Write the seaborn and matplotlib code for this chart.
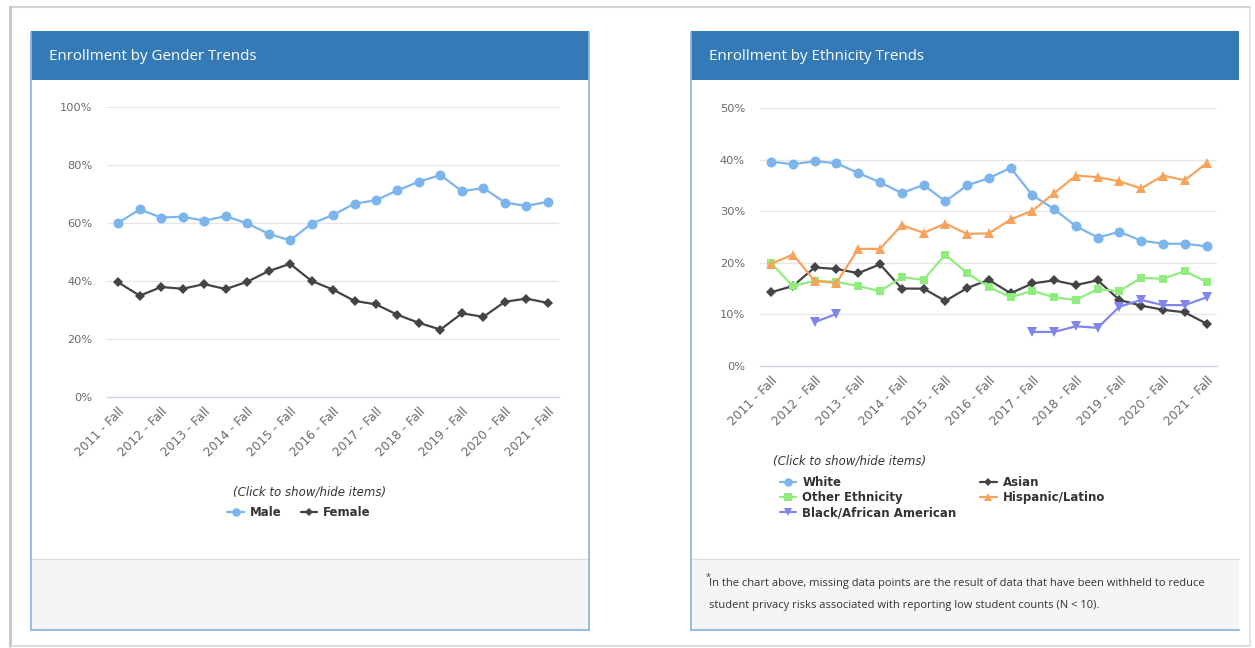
import numpy as np
import pandas as pd
import matplotlib
matplotlib.use("Agg")
import matplotlib.pyplot as plt
from matplotlib.patches import Rectangle
from matplotlib.lines import Line2D
import seaborn as sns

# ---- data -------------------------------------------------------------
terms = [
    "2011 - Fall", "2012 - Spring", "2012 - Fall", "2013 - Spring", "2013 - Fall",
    "2014 - Spring", "2014 - Fall", "2015 - Spring", "2015 - Fall", "2016 - Spring",
    "2016 - Fall", "2017 - Spring", "2017 - Fall", "2018 - Spring", "2018 - Fall",
    "2019 - Spring", "2019 - Fall", "2020 - Spring", "2020 - Fall", "2021 - Spring",
    "2021 - Fall",
]

male = [60.1, 64.7, 61.9, 62.2, 60.8, 62.4, 59.9, 56.3, 54.0, 59.8, 62.8,
        66.7, 67.9, 71.3, 74.3, 76.6, 71.0, 72.1, 67.1, 65.9, 67.4]
female = [39.5, 34.9, 37.9, 37.3, 38.9, 37.2, 39.7, 43.4, 45.9, 40.0, 37.0,
          33.1, 31.9, 28.3, 25.5, 23.2, 28.8, 27.6, 32.8, 33.9, 32.4]

white = [39.6, 39.1, 39.7, 39.3, 37.4, 35.6, 33.5, 35.1, 31.9, 35.0, 36.4,
         38.4, 33.1, 30.4, 27.1, 24.9, 26.0, 24.3, 23.7, 23.7, 23.2]
asian = [14.3, 15.5, 19.1, 18.8, 18.0, 19.7, 15.0, 15.0, 12.6, 15.1, 16.7,
         14.1, 16.0, 16.6, 15.7, 16.6, 12.8, 11.7, 10.9, 10.4, 8.2]
other_ethnicity = [19.9, 15.5, 16.5, 16.3, 15.5, 14.5, 17.2, 16.7, 21.6, 18.0, 15.3,
                   13.3, 14.6, 13.3, 12.8, 14.9, 14.5, 17.1, 16.9, 18.4, 16.3]
hispanic = [19.8, 21.6, 16.5, 16.1, 22.7, 22.7, 27.3, 25.8, 27.6, 25.6, 25.7,
            28.4, 30.1, 33.5, 36.9, 36.6, 35.8, 34.4, 36.9, 36.0, 39.3]
black = [None, None, 8.5, 10.1, None, None, None, None, None, None, None,
         None, 6.6, 6.6, 7.7, 7.4, 11.5, 12.8, 11.8, 11.8, 13.3]

footnote = ("In the chart above, missing data points are the result of data that have been withheld to reduce\n"
            "student privacy risks associated with reporting low student counts (N < 10).")

# ---- figure helpers ----------------------------------------------------
W, H = 1255, 648
sns.set_style("white")
plt.rcParams["font.family"] = ["DejaVu Sans"]

fig = plt.figure(figsize=(W / 100, H / 100), dpi=100)
fig.patch.set_facecolor("white")


def fx(x):
    return x / W


def fy(y):
    return 1 - y / H


BLUE_HEAD = "#337ab7"
BORDER = "#8fb8e0"
TEXT = "#333333"


def add_rect(x0, y0, x1, y1, **kw):
    r = Rectangle((fx(x0), fy(y1)), fx(x1) - fx(x0), fy(y0) - fy(y1),
                  transform=fig.transFigure, **kw)
    fig.add_artist(r)
    return r


def add_line(xs, ys, **kw):
    fig.add_artist(Line2D([fx(x) for x in xs], [fy(y) for y in ys],
                          transform=fig.transFigure, **kw))


# outer page frame
add_line([10, 1250], [7, 7], color="#d4d4d4", lw=1.5)
add_line([10, 10], [7, 646], color="#c4c4c4", lw=2.0)
add_line([10, 1250], [646, 646], color="#d4d4d4", lw=1.2)
add_line([1250, 1250], [7, 646], color="#e0e0e0", lw=1.2)


def panel(x0, x1, title, right_border=True):
    top, head_bot, foot_top, bot = 31, 80, 559, 630
    add_rect(x0, foot_top, x1, bot, facecolor="#f5f5f5", edgecolor="none")
    add_line([x0, x1], [foot_top, foot_top], color="#dddddd", lw=1)
    add_rect(x0, top, x1, head_bot, facecolor=BLUE_HEAD, edgecolor="none")
    add_line([x0, x0], [top + 2, bot], color=BORDER, lw=1.3)
    add_line([x0, x1], [bot, bot], color=BORDER, lw=1.3)
    if right_border:
        add_line([x1, x1], [top + 2, bot], color=BORDER, lw=1.3)
    fig.text(fx(x0 + 18), fy(56), title, color="white", fontsize=10.9,
             family="Open Sans", va="center", ha="left")


panel(31, 589, "Enrollment by Gender Trends")
panel(691, 1239, "Enrollment by Ethnicity Trends", right_border=False)


# ---- chart drawing -----------------------------------------------------
def long_frame(series):
    rows = []
    for name, vals in series.items():
        run = 0
        for i, v in enumerate(vals):
            if v is None:
                run += 1
                continue
            rows.append({"term": i, "value": v, "series": name, "run": f"{name}-{run}"})
    return pd.DataFrame(rows)


def style_axes(ax, ymax, step):
    ax.set_xlim(-0.5, len(terms) - 0.5)
    ax.set_ylim(0, ymax)
    ax.set_yticks(np.arange(0, ymax + 0.1, step))
    ax.set_yticklabels([f"{int(v)}%" for v in np.arange(0, ymax + 0.1, step)])
    ax.set_xticks(range(0, len(terms), 2))
    ax.set_xticklabels(terms[::2], rotation=45, ha="right", rotation_mode="anchor")
    ax.grid(axis="y", color="#e6e6e6", lw=1)
    ax.grid(axis="x", visible=False)
    for s in ["left", "right", "top"]:
        ax.spines[s].set_visible(False)
    ax.spines["bottom"].set_color("#ccd6eb")
    ax.spines["bottom"].set_linewidth(1)
    ax.tick_params(axis="y", length=0, pad=11, labelsize=8.2, labelcolor="#6b6b6b")
    ax.tick_params(axis="x", length=0, pad=6, labelsize=8.8, labelcolor="#6b6b6b")
    ax.set_xlabel("")
    ax.set_ylabel("")
    ax.set_facecolor("none")
    ax.set_axisbelow(True)


def draw_series(ax, df, specs):
    for name, (color, marker, msize) in specs.items():
        sub = df[df["series"] == name]
        sns.lineplot(data=sub, x="term", y="value", units="run", estimator=None,
                     color=color, marker=marker, markersize=msize,
                     markeredgecolor=color, markeredgewidth=0, linewidth=1.6,
                     ax=ax, legend=False, clip_on=False, zorder=3)


gender_specs = {
    "Male": ("#7cb5ec", "o", 7.2),
    "Female": ("#434348", "D", 5.2),
}
eth_specs = {
    "White": ("#7cb5ec", "o", 7.2),
    "Asian": ("#434348", "D", 5.2),
    "Other Ethnicity": ("#90ed7d", "s", 6.2),
    "Hispanic/Latino": ("#f7a35c", "^", 7.2),
    "Black/African American": ("#8085e9", "v", 7.2),
}

# gender chart
ax1 = fig.add_axes([fx(107.5), fy(396.7), fx(558.6) - fx(107.5), fy(107.3) - fy(396.7)])
draw_series(ax1, long_frame({"Male": male, "Female": female}), gender_specs)
style_axes(ax1, 100, 20)

# ethnicity chart
ax2 = fig.add_axes([fx(760.3), fy(366), fx(1217.4) - fx(760.3), fy(108) - fy(366)])
draw_series(ax2, long_frame({"White": white, "Asian": asian,
                             "Other Ethnicity": other_ethnicity,
                             "Hispanic/Latino": hispanic,
                             "Black/African American": black}), eth_specs)
style_axes(ax2, 50, 10)


# ---- legends -----------------------------------------------------------
def handle(spec):
    color, marker, msize = spec
    return Line2D([0], [0], color=color, lw=1.6, marker=marker,
                  markersize=msize * 0.85, markeredgewidth=0)


leg_font = {"family": "DejaVu Sans", "weight": "bold", "size": 8.5}

fig.text(fx(310), fy(492), "(Click to show/hide items)", ha="center", va="center",
         fontsize=8.5, style="italic", color=TEXT)
names = ["Male", "Female"]
lg1 = fig.legend([handle(gender_specs[n]) for n in names], names, loc="center",
                 bbox_to_anchor=(fx(299), fy(513)), ncol=2, frameon=False,
                 handlelength=1.4, handletextpad=0.5, columnspacing=1.6,
                 prop=leg_font, borderpad=0)
for t in lg1.get_texts():
    t.set_color(TEXT)

fig.text(fx(773), fy(461), "(Click to show/hide items)", ha="left", va="center",
         fontsize=8.5, style="italic", color=TEXT)
order = ["White", "Other Ethnicity", "Black/African American", "Asian", "Hispanic/Latino"]
lg2 = fig.legend([handle(eth_specs[n]) for n in order], order, loc="upper left",
                 bbox_to_anchor=(fx(774), fy(470)), ncol=2, frameon=False,
                 handlelength=1.4, handletextpad=0.5, columnspacing=2.0,
                 labelspacing=0.2, prop=leg_font, borderpad=0)
for t in lg2.get_texts():
    t.set_color(TEXT)

# ---- footnote ----------------------------------------------------------
fig.text(fx(706), fy(577), "*", fontsize=6.5, color=TEXT, family="Open Sans",
         ha="left", va="center")
fig.text(fx(709), fy(594.5), footnote, fontsize=8.0, color=TEXT, family="Open Sans",
         ha="left", va="center", linespacing=2.45)

fig.savefig("out.png", dpi=100, facecolor="white")
